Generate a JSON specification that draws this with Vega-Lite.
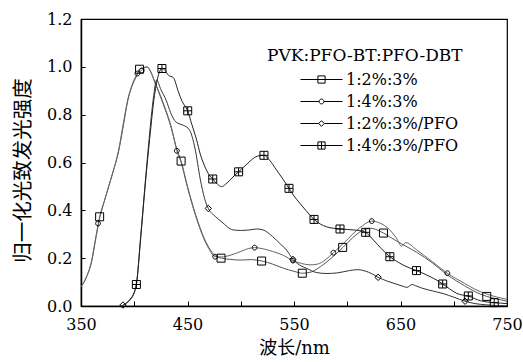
{
  "$schema": "https://vega.github.io/schema/vega-lite/v6.json",
  "width": 426,
  "height": 287,
  "autosize": "none",
  "padding": {"left": 81, "top": 19, "right": 16, "bottom": 56},
  "background": "white",
  "config": {
    "view": {"stroke": "black", "strokeWidth": 1.2},
    "axis": {
      "labelFont": "DejaVu Serif",
      "titleFont": "DejaVu Serif, Noto Sans CJK SC",
      "labelColor": "black",
      "titleColor": "black",
      "domainColor": "black",
      "tickColor": "black",
      "grid": false,
      "titleFontWeight": "normal"
    }
  },
  "datasets": {
    "curves": [
      {"series": "1:2%:3%", "wavelength": 350, "intensity": 0.08},
      {"series": "1:2%:3%", "wavelength": 355, "intensity": 0.12},
      {"series": "1:2%:3%", "wavelength": 360, "intensity": 0.19},
      {"series": "1:2%:3%", "wavelength": 364, "intensity": 0.29},
      {"series": "1:2%:3%", "wavelength": 367.5, "intensity": 0.373},
      {"series": "1:2%:3%", "wavelength": 372, "intensity": 0.44},
      {"series": "1:2%:3%", "wavelength": 376, "intensity": 0.5},
      {"series": "1:2%:3%", "wavelength": 380, "intensity": 0.56},
      {"series": "1:2%:3%", "wavelength": 385, "intensity": 0.64},
      {"series": "1:2%:3%", "wavelength": 390, "intensity": 0.76},
      {"series": "1:2%:3%", "wavelength": 394, "intensity": 0.86},
      {"series": "1:2%:3%", "wavelength": 398, "intensity": 0.92},
      {"series": "1:2%:3%", "wavelength": 402, "intensity": 0.96},
      {"series": "1:2%:3%", "wavelength": 405, "intensity": 0.99},
      {"series": "1:2%:3%", "wavelength": 409, "intensity": 0.995},
      {"series": "1:2%:3%", "wavelength": 412, "intensity": 1.0},
      {"series": "1:2%:3%", "wavelength": 415, "intensity": 0.985},
      {"series": "1:2%:3%", "wavelength": 419, "intensity": 0.94},
      {"series": "1:2%:3%", "wavelength": 425, "intensity": 0.87},
      {"series": "1:2%:3%", "wavelength": 430, "intensity": 0.81},
      {"series": "1:2%:3%", "wavelength": 435, "intensity": 0.74},
      {"series": "1:2%:3%", "wavelength": 440, "intensity": 0.655},
      {"series": "1:2%:3%", "wavelength": 444, "intensity": 0.606},
      {"series": "1:2%:3%", "wavelength": 450, "intensity": 0.5},
      {"series": "1:2%:3%", "wavelength": 455, "intensity": 0.42},
      {"series": "1:2%:3%", "wavelength": 460, "intensity": 0.35},
      {"series": "1:2%:3%", "wavelength": 465, "intensity": 0.29},
      {"series": "1:2%:3%", "wavelength": 470, "intensity": 0.245},
      {"series": "1:2%:3%", "wavelength": 476, "intensity": 0.21},
      {"series": "1:2%:3%", "wavelength": 482, "intensity": 0.2},
      {"series": "1:2%:3%", "wavelength": 490, "intensity": 0.195},
      {"series": "1:2%:3%", "wavelength": 500, "intensity": 0.192},
      {"series": "1:2%:3%", "wavelength": 510, "intensity": 0.194},
      {"series": "1:2%:3%", "wavelength": 520, "intensity": 0.188},
      {"series": "1:2%:3%", "wavelength": 530, "intensity": 0.175},
      {"series": "1:2%:3%", "wavelength": 540, "intensity": 0.158},
      {"series": "1:2%:3%", "wavelength": 550, "intensity": 0.145},
      {"series": "1:2%:3%", "wavelength": 558, "intensity": 0.137},
      {"series": "1:2%:3%", "wavelength": 566, "intensity": 0.142},
      {"series": "1:2%:3%", "wavelength": 575, "intensity": 0.165},
      {"series": "1:2%:3%", "wavelength": 585, "intensity": 0.2},
      {"series": "1:2%:3%", "wavelength": 596, "intensity": 0.245},
      {"series": "1:2%:3%", "wavelength": 605, "intensity": 0.285},
      {"series": "1:2%:3%", "wavelength": 614, "intensity": 0.315},
      {"series": "1:2%:3%", "wavelength": 622, "intensity": 0.325},
      {"series": "1:2%:3%", "wavelength": 628, "intensity": 0.318},
      {"series": "1:2%:3%", "wavelength": 634, "intensity": 0.305},
      {"series": "1:2%:3%", "wavelength": 645, "intensity": 0.275},
      {"series": "1:2%:3%", "wavelength": 655, "intensity": 0.25},
      {"series": "1:2%:3%", "wavelength": 665, "intensity": 0.225},
      {"series": "1:2%:3%", "wavelength": 680, "intensity": 0.18},
      {"series": "1:2%:3%", "wavelength": 694, "intensity": 0.13},
      {"series": "1:2%:3%", "wavelength": 710, "intensity": 0.085},
      {"series": "1:2%:3%", "wavelength": 720, "intensity": 0.06},
      {"series": "1:2%:3%", "wavelength": 731, "intensity": 0.04},
      {"series": "1:2%:3%", "wavelength": 740, "intensity": 0.03},
      {"series": "1:2%:3%", "wavelength": 750, "intensity": 0.02},

      {"series": "1:4%:3%", "wavelength": 350, "intensity": 0.08},
      {"series": "1:4%:3%", "wavelength": 355, "intensity": 0.12},
      {"series": "1:4%:3%", "wavelength": 360, "intensity": 0.185},
      {"series": "1:4%:3%", "wavelength": 364, "intensity": 0.285},
      {"series": "1:4%:3%", "wavelength": 368, "intensity": 0.375},
      {"series": "1:4%:3%", "wavelength": 372, "intensity": 0.44},
      {"series": "1:4%:3%", "wavelength": 376, "intensity": 0.5},
      {"series": "1:4%:3%", "wavelength": 380, "intensity": 0.56},
      {"series": "1:4%:3%", "wavelength": 385, "intensity": 0.645},
      {"series": "1:4%:3%", "wavelength": 390, "intensity": 0.77},
      {"series": "1:4%:3%", "wavelength": 394, "intensity": 0.865},
      {"series": "1:4%:3%", "wavelength": 398, "intensity": 0.925},
      {"series": "1:4%:3%", "wavelength": 403, "intensity": 0.972},
      {"series": "1:4%:3%", "wavelength": 407, "intensity": 0.985},
      {"series": "1:4%:3%", "wavelength": 411, "intensity": 1.0},
      {"series": "1:4%:3%", "wavelength": 414, "intensity": 0.99},
      {"series": "1:4%:3%", "wavelength": 419, "intensity": 0.94},
      {"series": "1:4%:3%", "wavelength": 425, "intensity": 0.875},
      {"series": "1:4%:3%", "wavelength": 430, "intensity": 0.815},
      {"series": "1:4%:3%", "wavelength": 435, "intensity": 0.745},
      {"series": "1:4%:3%", "wavelength": 440, "intensity": 0.649},
      {"series": "1:4%:3%", "wavelength": 444, "intensity": 0.6},
      {"series": "1:4%:3%", "wavelength": 450, "intensity": 0.495},
      {"series": "1:4%:3%", "wavelength": 455, "intensity": 0.415},
      {"series": "1:4%:3%", "wavelength": 460, "intensity": 0.345},
      {"series": "1:4%:3%", "wavelength": 465, "intensity": 0.285},
      {"series": "1:4%:3%", "wavelength": 470, "intensity": 0.24},
      {"series": "1:4%:3%", "wavelength": 476, "intensity": 0.206},
      {"series": "1:4%:3%", "wavelength": 482, "intensity": 0.205},
      {"series": "1:4%:3%", "wavelength": 490, "intensity": 0.212},
      {"series": "1:4%:3%", "wavelength": 500, "intensity": 0.228},
      {"series": "1:4%:3%", "wavelength": 507, "intensity": 0.24},
      {"series": "1:4%:3%", "wavelength": 513, "intensity": 0.244},
      {"series": "1:4%:3%", "wavelength": 520, "intensity": 0.24},
      {"series": "1:4%:3%", "wavelength": 530, "intensity": 0.228},
      {"series": "1:4%:3%", "wavelength": 540, "intensity": 0.212},
      {"series": "1:4%:3%", "wavelength": 549, "intensity": 0.19},
      {"series": "1:4%:3%", "wavelength": 557, "intensity": 0.178},
      {"series": "1:4%:3%", "wavelength": 565, "intensity": 0.172},
      {"series": "1:4%:3%", "wavelength": 572, "intensity": 0.175},
      {"series": "1:4%:3%", "wavelength": 580, "intensity": 0.195},
      {"series": "1:4%:3%", "wavelength": 587, "intensity": 0.223},
      {"series": "1:4%:3%", "wavelength": 596, "intensity": 0.26},
      {"series": "1:4%:3%", "wavelength": 605, "intensity": 0.3},
      {"series": "1:4%:3%", "wavelength": 614, "intensity": 0.335},
      {"series": "1:4%:3%", "wavelength": 623, "intensity": 0.355},
      {"series": "1:4%:3%", "wavelength": 630, "intensity": 0.348},
      {"series": "1:4%:3%", "wavelength": 640, "intensity": 0.318},
      {"series": "1:4%:3%", "wavelength": 646, "intensity": 0.285},
      {"series": "1:4%:3%", "wavelength": 651, "intensity": 0.25},
      {"series": "1:4%:3%", "wavelength": 655, "intensity": 0.265},
      {"series": "1:4%:3%", "wavelength": 665, "intensity": 0.235},
      {"series": "1:4%:3%", "wavelength": 680, "intensity": 0.185},
      {"series": "1:4%:3%", "wavelength": 694, "intensity": 0.137},
      {"series": "1:4%:3%", "wavelength": 710, "intensity": 0.095},
      {"series": "1:4%:3%", "wavelength": 720, "intensity": 0.07},
      {"series": "1:4%:3%", "wavelength": 731, "intensity": 0.05},
      {"series": "1:4%:3%", "wavelength": 740, "intensity": 0.038},
      {"series": "1:4%:3%", "wavelength": 750, "intensity": 0.028},

      {"series": "1:2%:3%/PFO", "wavelength": 388, "intensity": 0.0},
      {"series": "1:2%:3%/PFO", "wavelength": 392, "intensity": 0.01},
      {"series": "1:2%:3%/PFO", "wavelength": 396, "intensity": 0.025},
      {"series": "1:2%:3%/PFO", "wavelength": 400, "intensity": 0.055},
      {"series": "1:2%:3%/PFO", "wavelength": 402, "intensity": 0.09},
      {"series": "1:2%:3%/PFO", "wavelength": 406, "intensity": 0.29},
      {"series": "1:2%:3%/PFO", "wavelength": 410, "intensity": 0.5},
      {"series": "1:2%:3%/PFO", "wavelength": 414, "intensity": 0.7},
      {"series": "1:2%:3%/PFO", "wavelength": 418, "intensity": 0.87},
      {"series": "1:2%:3%/PFO", "wavelength": 421, "intensity": 0.945},
      {"series": "1:2%:3%/PFO", "wavelength": 425, "intensity": 0.905},
      {"series": "1:2%:3%/PFO", "wavelength": 430, "intensity": 0.86},
      {"series": "1:2%:3%/PFO", "wavelength": 434, "intensity": 0.81},
      {"series": "1:2%:3%/PFO", "wavelength": 438, "intensity": 0.775},
      {"series": "1:2%:3%/PFO", "wavelength": 442, "intensity": 0.762},
      {"series": "1:2%:3%/PFO", "wavelength": 446, "intensity": 0.756},
      {"series": "1:2%:3%/PFO", "wavelength": 452, "intensity": 0.735},
      {"series": "1:2%:3%/PFO", "wavelength": 457, "intensity": 0.66},
      {"series": "1:2%:3%/PFO", "wavelength": 462, "intensity": 0.53},
      {"series": "1:2%:3%/PFO", "wavelength": 466, "intensity": 0.45},
      {"series": "1:2%:3%/PFO", "wavelength": 469.5, "intensity": 0.408},
      {"series": "1:2%:3%/PFO", "wavelength": 476, "intensity": 0.375},
      {"series": "1:2%:3%/PFO", "wavelength": 482, "intensity": 0.352},
      {"series": "1:2%:3%/PFO", "wavelength": 493, "intensity": 0.318},
      {"series": "1:2%:3%/PFO", "wavelength": 500, "intensity": 0.316},
      {"series": "1:2%:3%/PFO", "wavelength": 508, "intensity": 0.318},
      {"series": "1:2%:3%/PFO", "wavelength": 515, "intensity": 0.322},
      {"series": "1:2%:3%/PFO", "wavelength": 521, "intensity": 0.318},
      {"series": "1:2%:3%/PFO", "wavelength": 530, "intensity": 0.29},
      {"series": "1:2%:3%/PFO", "wavelength": 537, "intensity": 0.26},
      {"series": "1:2%:3%/PFO", "wavelength": 543, "intensity": 0.234},
      {"series": "1:2%:3%/PFO", "wavelength": 549, "intensity": 0.195},
      {"series": "1:2%:3%/PFO", "wavelength": 555, "intensity": 0.172},
      {"series": "1:2%:3%/PFO", "wavelength": 562, "intensity": 0.157},
      {"series": "1:2%:3%/PFO", "wavelength": 571, "intensity": 0.14},
      {"series": "1:2%:3%/PFO", "wavelength": 580, "intensity": 0.136},
      {"series": "1:2%:3%/PFO", "wavelength": 590, "intensity": 0.138},
      {"series": "1:2%:3%/PFO", "wavelength": 602, "intensity": 0.148},
      {"series": "1:2%:3%/PFO", "wavelength": 610, "intensity": 0.152},
      {"series": "1:2%:3%/PFO", "wavelength": 617, "intensity": 0.146},
      {"series": "1:2%:3%/PFO", "wavelength": 623, "intensity": 0.135},
      {"series": "1:2%:3%/PFO", "wavelength": 629, "intensity": 0.12},
      {"series": "1:2%:3%/PFO", "wavelength": 637, "intensity": 0.105},
      {"series": "1:2%:3%/PFO", "wavelength": 645, "intensity": 0.093},
      {"series": "1:2%:3%/PFO", "wavelength": 652, "intensity": 0.083},
      {"series": "1:2%:3%/PFO", "wavelength": 656, "intensity": 0.078},
      {"series": "1:2%:3%/PFO", "wavelength": 661, "intensity": 0.09},
      {"series": "1:2%:3%/PFO", "wavelength": 664, "intensity": 0.085},
      {"series": "1:2%:3%/PFO", "wavelength": 670, "intensity": 0.075},
      {"series": "1:2%:3%/PFO", "wavelength": 680, "intensity": 0.063},
      {"series": "1:2%:3%/PFO", "wavelength": 690, "intensity": 0.052},
      {"series": "1:2%:3%/PFO", "wavelength": 700, "intensity": 0.037},
      {"series": "1:2%:3%/PFO", "wavelength": 710.6, "intensity": 0.02},
      {"series": "1:2%:3%/PFO", "wavelength": 720, "intensity": 0.01},
      {"series": "1:2%:3%/PFO", "wavelength": 730, "intensity": 0.005},
      {"series": "1:2%:3%/PFO", "wavelength": 740, "intensity": 0.002},
      {"series": "1:2%:3%/PFO", "wavelength": 750, "intensity": 0.0},

      {"series": "1:4%:3%/PFO", "wavelength": 388, "intensity": 0.0},
      {"series": "1:4%:3%/PFO", "wavelength": 392, "intensity": 0.01},
      {"series": "1:4%:3%/PFO", "wavelength": 396, "intensity": 0.028},
      {"series": "1:4%:3%/PFO", "wavelength": 400, "intensity": 0.058},
      {"series": "1:4%:3%/PFO", "wavelength": 402, "intensity": 0.09},
      {"series": "1:4%:3%/PFO", "wavelength": 406, "intensity": 0.28},
      {"series": "1:4%:3%/PFO", "wavelength": 410, "intensity": 0.49},
      {"series": "1:4%:3%/PFO", "wavelength": 414.5, "intensity": 0.7},
      {"series": "1:4%:3%/PFO", "wavelength": 419, "intensity": 0.88},
      {"series": "1:4%:3%/PFO", "wavelength": 423, "intensity": 0.97},
      {"series": "1:4%:3%/PFO", "wavelength": 426, "intensity": 0.993},
      {"series": "1:4%:3%/PFO", "wavelength": 429, "intensity": 0.985},
      {"series": "1:4%:3%/PFO", "wavelength": 432, "intensity": 0.965},
      {"series": "1:4%:3%/PFO", "wavelength": 436.7, "intensity": 0.955},
      {"series": "1:4%:3%/PFO", "wavelength": 441.4, "intensity": 0.896},
      {"series": "1:4%:3%/PFO", "wavelength": 445, "intensity": 0.855},
      {"series": "1:4%:3%/PFO", "wavelength": 450.2, "intensity": 0.816},
      {"series": "1:4%:3%/PFO", "wavelength": 454, "intensity": 0.76},
      {"series": "1:4%:3%/PFO", "wavelength": 458.6, "intensity": 0.694},
      {"series": "1:4%:3%/PFO", "wavelength": 462, "intensity": 0.635},
      {"series": "1:4%:3%/PFO", "wavelength": 466.4, "intensity": 0.582},
      {"series": "1:4%:3%/PFO", "wavelength": 470, "intensity": 0.55},
      {"series": "1:4%:3%/PFO", "wavelength": 473.7, "intensity": 0.531},
      {"series": "1:4%:3%/PFO", "wavelength": 478, "intensity": 0.51},
      {"series": "1:4%:3%/PFO", "wavelength": 482, "intensity": 0.499},
      {"series": "1:4%:3%/PFO", "wavelength": 486, "intensity": 0.51},
      {"series": "1:4%:3%/PFO", "wavelength": 490, "intensity": 0.527},
      {"series": "1:4%:3%/PFO", "wavelength": 494, "intensity": 0.545},
      {"series": "1:4%:3%/PFO", "wavelength": 498, "intensity": 0.561},
      {"series": "1:4%:3%/PFO", "wavelength": 505, "intensity": 0.59},
      {"series": "1:4%:3%/PFO", "wavelength": 511.8, "intensity": 0.617},
      {"series": "1:4%:3%/PFO", "wavelength": 516, "intensity": 0.627},
      {"series": "1:4%:3%/PFO", "wavelength": 521.8, "intensity": 0.63},
      {"series": "1:4%:3%/PFO", "wavelength": 527, "intensity": 0.61},
      {"series": "1:4%:3%/PFO", "wavelength": 533.7, "intensity": 0.568},
      {"series": "1:4%:3%/PFO", "wavelength": 540, "intensity": 0.528},
      {"series": "1:4%:3%/PFO", "wavelength": 545.3, "intensity": 0.492},
      {"series": "1:4%:3%/PFO", "wavelength": 550, "intensity": 0.46},
      {"series": "1:4%:3%/PFO", "wavelength": 555.6, "intensity": 0.429},
      {"series": "1:4%:3%/PFO", "wavelength": 562, "intensity": 0.395},
      {"series": "1:4%:3%/PFO", "wavelength": 568.8, "intensity": 0.362},
      {"series": "1:4%:3%/PFO", "wavelength": 575, "intensity": 0.342},
      {"series": "1:4%:3%/PFO", "wavelength": 580.7, "intensity": 0.331},
      {"series": "1:4%:3%/PFO", "wavelength": 587, "intensity": 0.325},
      {"series": "1:4%:3%/PFO", "wavelength": 593.2, "intensity": 0.322},
      {"series": "1:4%:3%/PFO", "wavelength": 600, "intensity": 0.32},
      {"series": "1:4%:3%/PFO", "wavelength": 605.7, "intensity": 0.318},
      {"series": "1:4%:3%/PFO", "wavelength": 612, "intensity": 0.315},
      {"series": "1:4%:3%/PFO", "wavelength": 617.3, "intensity": 0.308},
      {"series": "1:4%:3%/PFO", "wavelength": 624.5, "intensity": 0.276},
      {"series": "1:4%:3%/PFO", "wavelength": 632, "intensity": 0.24},
      {"series": "1:4%:3%/PFO", "wavelength": 640, "intensity": 0.206},
      {"series": "1:4%:3%/PFO", "wavelength": 646, "intensity": 0.188},
      {"series": "1:4%:3%/PFO", "wavelength": 652.6, "intensity": 0.171},
      {"series": "1:4%:3%/PFO", "wavelength": 658, "intensity": 0.16},
      {"series": "1:4%:3%/PFO", "wavelength": 665, "intensity": 0.148},
      {"series": "1:4%:3%/PFO", "wavelength": 671, "intensity": 0.137},
      {"series": "1:4%:3%/PFO", "wavelength": 677.7, "intensity": 0.123},
      {"series": "1:4%:3%/PFO", "wavelength": 684, "intensity": 0.108},
      {"series": "1:4%:3%/PFO", "wavelength": 689.6, "intensity": 0.092},
      {"series": "1:4%:3%/PFO", "wavelength": 696, "intensity": 0.072},
      {"series": "1:4%:3%/PFO", "wavelength": 702.7, "intensity": 0.053},
      {"series": "1:4%:3%/PFO", "wavelength": 708, "intensity": 0.046},
      {"series": "1:4%:3%/PFO", "wavelength": 713.7, "intensity": 0.042},
      {"series": "1:4%:3%/PFO", "wavelength": 720, "intensity": 0.03},
      {"series": "1:4%:3%/PFO", "wavelength": 725, "intensity": 0.022},
      {"series": "1:4%:3%/PFO", "wavelength": 731, "intensity": 0.017},
      {"series": "1:4%:3%/PFO", "wavelength": 738, "intensity": 0.014},
      {"series": "1:4%:3%/PFO", "wavelength": 744, "intensity": 0.012},
      {"series": "1:4%:3%/PFO", "wavelength": 750, "intensity": 0.01}
    ],
    "markers": [
      {"series": "1:2%:3%", "wavelength": 367.5, "intensity": 0.373},
      {"series": "1:2%:3%", "wavelength": 405, "intensity": 0.99},
      {"series": "1:2%:3%", "wavelength": 444, "intensity": 0.606},
      {"series": "1:2%:3%", "wavelength": 481.5, "intensity": 0.2},
      {"series": "1:2%:3%", "wavelength": 519.6, "intensity": 0.188},
      {"series": "1:2%:3%", "wavelength": 557.8, "intensity": 0.137},
      {"series": "1:2%:3%", "wavelength": 595.7, "intensity": 0.245},
      {"series": "1:2%:3%", "wavelength": 634, "intensity": 0.305},
      {"series": "1:2%:3%", "wavelength": 731, "intensity": 0.04},
      {"series": "1:4%:3%", "wavelength": 366, "intensity": 0.345},
      {"series": "1:4%:3%", "wavelength": 403, "intensity": 0.972},
      {"series": "1:4%:3%", "wavelength": 407, "intensity": 0.985},
      {"series": "1:4%:3%", "wavelength": 440, "intensity": 0.649},
      {"series": "1:4%:3%", "wavelength": 476, "intensity": 0.206},
      {"series": "1:4%:3%", "wavelength": 513, "intensity": 0.244},
      {"series": "1:4%:3%", "wavelength": 549, "intensity": 0.19},
      {"series": "1:4%:3%", "wavelength": 587, "intensity": 0.223},
      {"series": "1:4%:3%", "wavelength": 623, "intensity": 0.355},
      {"series": "1:4%:3%", "wavelength": 694, "intensity": 0.137},
      {"series": "1:2%:3%/PFO", "wavelength": 389.4, "intensity": 0.004},
      {"series": "1:2%:3%/PFO", "wavelength": 469.5, "intensity": 0.408},
      {"series": "1:2%:3%/PFO", "wavelength": 549, "intensity": 0.195},
      {"series": "1:2%:3%/PFO", "wavelength": 629, "intensity": 0.12},
      {"series": "1:2%:3%/PFO", "wavelength": 710.6, "intensity": 0.02},
      {"series": "1:4%:3%/PFO", "wavelength": 402, "intensity": 0.09},
      {"series": "1:4%:3%/PFO", "wavelength": 426, "intensity": 0.993},
      {"series": "1:4%:3%/PFO", "wavelength": 450.2, "intensity": 0.816},
      {"series": "1:4%:3%/PFO", "wavelength": 473.7, "intensity": 0.531},
      {"series": "1:4%:3%/PFO", "wavelength": 498, "intensity": 0.561},
      {"series": "1:4%:3%/PFO", "wavelength": 521.8, "intensity": 0.63},
      {"series": "1:4%:3%/PFO", "wavelength": 545.3, "intensity": 0.492},
      {"series": "1:4%:3%/PFO", "wavelength": 568.8, "intensity": 0.362},
      {"series": "1:4%:3%/PFO", "wavelength": 593.2, "intensity": 0.322},
      {"series": "1:4%:3%/PFO", "wavelength": 617.3, "intensity": 0.308},
      {"series": "1:4%:3%/PFO", "wavelength": 640, "intensity": 0.206},
      {"series": "1:4%:3%/PFO", "wavelength": 665, "intensity": 0.148},
      {"series": "1:4%:3%/PFO", "wavelength": 689.6, "intensity": 0.092},
      {"series": "1:4%:3%/PFO", "wavelength": 713.7, "intensity": 0.042},
      {"series": "1:4%:3%/PFO", "wavelength": 738, "intensity": 0.014}
    ]
  },
  "encoding": {
    "x": {
      "field": "wavelength",
      "type": "quantitative",
      "scale": {"domain": [350, 750], "nice": false, "zero": false},
      "axis": {
        "title": "波长/nm",
        "titleFontSize": 18,
        "titlePadding": 7,
        "labelFontSize": 16,
        "labelPadding": 15,
        "values": [350, 400, 450, 500, 550, 600, 650, 700, 750],
        "labelExpr": "(datum.value - 350) % 100 == 0 ? datum.label : ''",
        "tickSize": -5,
        "domainWidth": 1.5,
        "labelFlush": false
      }
    },
    "y": {
      "field": "intensity",
      "type": "quantitative",
      "scale": {"domain": [0, 1.2], "nice": false},
      "axis": {
        "title": "归一化光致发光强度",
        "titleFontSize": 20.5,
        "titleX": -48,
        "titleY": 151,
        "labelFontSize": 16,
        "labelPadding": 13,
        "values": [0, 0.2, 0.4, 0.6, 0.8, 1.0, 1.2],
        "format": ".1f",
        "tickSize": -4,
        "domainWidth": 1.5
      }
    }
  },
  "layer": [
    {
      "data": {"name": "curves"},
      "mark": {"type": "line", "interpolate": "monotone", "strokeWidth": 1, "clip": true},
      "encoding": {
        "detail": {"field": "series"},
        "color": {
          "field": "series",
          "type": "nominal",
          "legend": null,
          "scale": {
            "domain": ["1:2%:3%", "1:4%:3%", "1:2%:3%/PFO", "1:4%:3%/PFO"],
            "range": ["#555555", "#666666", "#333333", "#222222"]
          }
        }
      }
    },
    {
      "data": {"name": "markers"},
      "mark": {"type": "point", "filled": false, "color": "black", "strokeWidth": 1, "size": 64, "opacity": 1},
      "encoding": {
        "shape": {
          "field": "series",
          "type": "nominal",
          "legend": null,
          "scale": {
            "domain": ["1:2%:3%", "1:4%:3%", "1:2%:3%/PFO", "1:4%:3%/PFO"],
            "range": [
              "M-1,-1H1V1H-1Z",
              "M-0.6,0A0.6,0.6,0,1,1,0.6,0A0.6,0.6,0,1,1,-0.6,0Z",
              "M0,-0.8L0.8,0L0,0.8L-0.8,0Z",
              "M-1,-1H1V1H-1Z M-1,0H1 M0,-1V1"
            ]
          }
        }
      }
    },
    {
      "data": {"values": []},
      "mark": {"type": "point", "filled": false, "color": "black", "strokeWidth": 1, "opacity": 1},
      "encoding": {
        "shape": {
          "field": "entry",
          "type": "nominal",
          "scale": {
            "domain": ["1:2%:3%", "1:4%:3%", "1:2%:3%/PFO", "1:4%:3%/PFO"],
            "range": [
              "M-2.625,0H2.625 M-0.45,-0.45H0.45V0.45H-0.45Z",
              "M-2.625,0H-0.3 M0.3,0H2.625 M-0.3,0A0.3,0.3,0,1,1,0.3,0A0.3,0.3,0,1,1,-0.3,0Z",
              "M-2.625,0H-0.35 M0.35,0H2.625 M0,-0.35L0.35,0L0,0.35L-0.35,0Z",
              "M-2.625,0H2.625 M-0.45,-0.45H0.45V0.45H-0.45Z M0,-0.45V0.45"
            ]
          },
          "legend": {
            "orient": "none",
            "legendX": 186,
            "legendY": 29,
            "title": "PVK:PFO-BT:PFO-DBT",
            "titleFont": "DejaVu Serif",
            "titleFontSize": 17,
            "titleFontWeight": "normal",
            "titleColor": "black",
            "titleLimit": 400,
            "titlePadding": 6,
            "labelFont": "DejaVu Serif",
            "labelFontSize": 16,
            "labelColor": "black",
            "labelLimit": 300,
            "symbolSize": 256,
            "symbolStrokeWidth": 1,
            "symbolStrokeColor": "black",
            "symbolOffset": 46,
            "labelOffset": 16,
            "rowPadding": 5,
            "padding": 0
          }
        }
      }
    }
  ],
  "resolve": {"scale": {"shape": "independent"}, "legend": {"shape": "independent"}}
}
